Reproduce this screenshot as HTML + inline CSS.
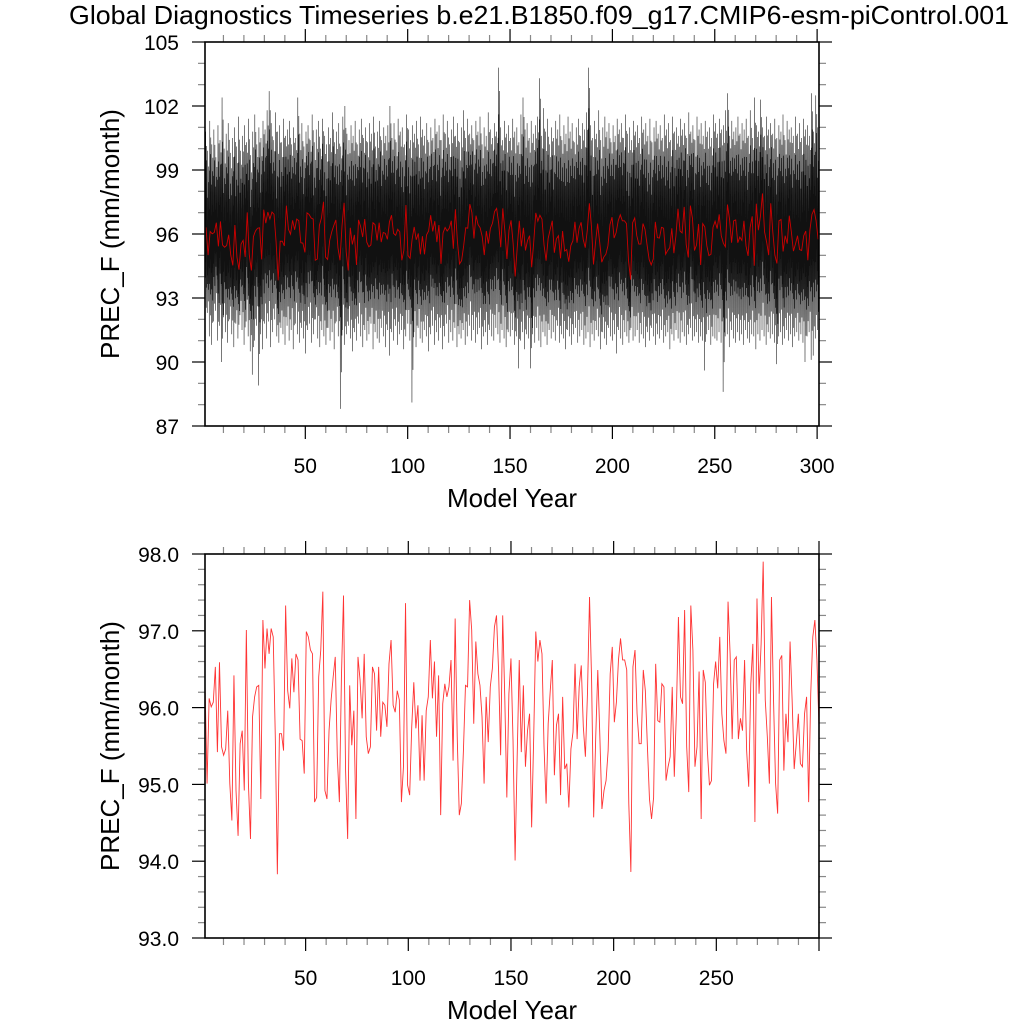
<!DOCTYPE html>
<html><head><meta charset="utf-8"><style>
html,body{margin:0;padding:0;background:#fff}
svg{display:block}
text{font-family:"Liberation Sans",sans-serif;fill:#000}
</style></head><body>
<svg id="chart" width="1024" height="1024" viewBox="0 0 1024 1024">
<text x="539" y="24" font-size="26" text-anchor="middle" textLength="940" lengthAdjust="spacingAndGlyphs">Global Diagnostics Timeseries b.e21.B1850.f09_g17.CMIP6-esm-piControl.001</text>
<g id="top"></g>
<g id="bot"></g>
</svg>
<script>
const annual = [96.31,95.01,96.12,96.01,96.07,96.53,95.42,96.59,95.49,95.38,95.46,95.96,95.01,94.53,96.42,94.92,94.33,95.53,95.7,94.92,97.01,95.01,94.29,95.88,96.14,96.27,96.29,94.81,97.14,96.51,97.03,96.7,97.03,96.92,95.62,93.83,95.66,95.66,95.44,97.33,96.22,95.99,96.64,96.2,96.7,96.62,95.59,95.57,95.14,96.99,96.92,96.75,96.7,94.77,94.83,96.4,96.75,97.51,94.92,94.81,95.7,96.1,96.4,96.66,95.36,94.77,96.4,97.46,95.18,94.29,96.29,95.51,95.96,94.55,96.66,96.36,95.86,96.7,
95.62,95.4,95.49,96.53,96.44,95.7,96.53,95.62,96.07,96.03,95.75,96.57,96.88,96.03,95.94,96.22,96.1,94.77,95.23,97.36,94.99,94.86,95.75,96.33,95.73,96.03,95.05,95.9,95.05,95.96,96.14,96.88,96.12,96.6,95.62,96.42,94.6,96.05,96.31,96.14,96.27,96.62,95.31,97.16,95.62,94.6,94.75,95.44,96.29,96.27,97.4,97.01,95.79,96.86,96.44,96.29,95.88,95.01,96.14,95.55,96.27,96.51,97.05,97.2,96.49,95.38,97.2,96.14,94.83,96.18,96.64,95.57,94.01,95.36,96.62,95.42,96.29,
95.23,95.7,95.92,94.44,95.62,96.99,96.6,96.88,96.7,95.49,94.75,95.79,96.22,96.62,95.12,95.77,95.92,94.86,96.14,95.2,95.27,94.7,95.46,95.68,96.57,95.59,96.27,96.55,95.75,95.36,96.18,97.44,96.36,94.57,95.62,96.49,95.62,94.68,94.92,95.05,95.44,96.44,96.79,95.81,96.07,96.62,96.9,96.62,96.62,96.49,94.75,93.86,96.53,96.75,95.92,95.53,95.53,96.49,96.22,95.49,94.81,94.55,94.83,96.57,95.83,95.81,96.31,96.27,95.05,95.23,95.36,96.27,95.1,95.92,97.18,96.14,96.05,97.27,
95.49,94.9,97.33,96.75,95.23,95.49,96.47,94.55,96.49,96.33,95.44,94.99,95.05,96.31,96.6,96.25,96.92,95.92,95.57,95.4,97.38,96.7,95.59,96.62,96.66,95.59,95.86,95.7,96.62,95.44,94.97,96.31,96.83,94.51,97.42,96.18,96.83,97.9,96.1,95.62,95.01,97.44,96.1,95.01,94.62,96.62,96.68,95.18,95.92,95.55,96.86,96.1,95.2,95.53,95.92,95.27,95.23,95.92,96.14,94.77,96.18,96.92,97.14,96.62,95.75];
const yearHi = [100.8,99.9,101.3,100.2,100.9,99.6,101.1,100.4,102.4,100.0,100.7,101.2,99.8,100.5,101.0,100.1,101.5,99.9,100.6,101.1,100.3,101.4,99.7,100.8,101.6,100.2,101.0,100.5,101.3,100.9,101.8,102.7,101.2,100.4,101.7,100.8,101.1,100.3,101.4,100.6,100.9,101.3,100.2,101.0,100.5,102.4,100.7,101.2,100.1,100.8,101.1,100.4,101.6,100.3,100.9,101.3,100.0,101.4,100.6,100.2,101.0,100.5,101.7,100.3,100.8,101.2,100.1,101.5,102.0,100.7,100.4,101.1,100.6,101.3,100.2,100.9,101.4,100.5,101.0,100.3,101.2,100.7,101.5,100.1,100.8,101.3,100.4,101.0,100.6,101.1,102.0,100.5,101.2,100.3,101.4,100.8,101.0,100.2,101.6,100.9,100.4,101.1,100.7,101.3,100.2,101.5,100.9,100.6,101.2,100.3,101.0,100.5,101.4,100.8,101.1,100.4,101.6,100.7,101.3,100.2,100.9,101.5,100.6,101.2,100.3,101.0,101.8,100.5,101.4,100.7,101.1,100.4,101.3,100.8,101.5,100.2,101.0,100.6,101.7,100.9,100.5,101.2,100.8,103.8,101.0,100.4,101.3,100.7,101.1,100.5,101.4,100.8,101.0,100.3,101.6,102.4,100.9,101.2,100.5,101.3,100.7,101.1,101.5,103.3,100.6,101.9,100.8,101.4,100.2,101.0,100.5,101.3,100.9,101.6,100.4,101.1,100.7,101.5,100.8,101.2,100.3,101.0,101.4,100.6,101.2,100.9,101.7,103.8,101.1,100.5,101.3,100.7,101.8,100.4,101.0,101.5,100.8,101.2,100.3,101.1,100.6,101.4,100.9,101.2,100.5,101.6,100.7,101.0,100.4,101.3,100.8,101.1,100.5,101.5,100.9,101.2,100.6,101.4,100.3,101.0,101.3,100.7,101.1,100.5,101.6,100.9,101.2,100.4,101.5,100.8,101.0,100.6,101.4,100.9,101.2,100.5,101.7,100.8,101.1,100.4,101.5,100.9,101.2,100.6,101.3,100.8,101.0,100.5,101.6,101.2,100.7,101.4,100.9,101.1,101.8,102.6,100.6,101.3,100.8,101.0,101.5,100.7,101.2,100.9,101.4,100.6,101.8,100.5,102.4,101.1,100.8,102.3,101.0,100.6,101.5,100.9,101.2,100.7,101.4,100.5,101.1,100.8,101.6,100.4,101.3,100.9,101.0,100.6,101.5,100.7,101.2,100.5,101.4,100.9,101.1,100.6,102.6,100.8,102.5,101.0];
const yearLo = [91.6,92.3,91.2,90.8,91.9,92.4,91.0,91.7,90.0,92.1,91.4,90.9,92.0,91.3,90.7,91.8,91.1,92.2,91.5,90.8,91.9,91.2,90.5,89.4,91.0,91.7,88.9,91.3,90.6,91.8,91.1,91.9,90.7,91.4,92.0,91.2,90.9,91.6,91.3,90.8,91.7,91.0,91.5,90.6,91.8,91.3,90.9,91.6,91.1,90.4,91.5,91.8,90.9,91.3,92.0,91.1,90.7,91.5,91.2,90.8,91.6,91.0,91.4,90.6,91.9,91.2,87.8,91.5,90.8,91.3,91.7,91.1,90.5,91.4,91.0,91.8,91.2,90.7,91.5,91.0,91.3,91.8,90.6,91.4,91.1,90.9,91.6,91.2,90.7,91.5,90.3,91.4,91.0,91.7,90.8,91.3,91.5,90.6,91.2,91.8,91.0,88.1,91.4,90.7,91.6,91.1,90.9,91.5,91.2,90.5,91.3,91.7,90.8,91.4,91.0,91.6,90.6,91.2,91.8,90.9,91.4,91.0,91.6,90.7,91.3,91.1,91.5,90.8,91.2,91.7,91.0,91.5,90.9,91.3,91.6,90.6,91.2,91.4,90.8,91.5,91.2,91.0,91.6,91.3,90.9,91.5,91.1,90.7,91.4,91.2,91.5,90.8,91.2,89.7,91.0,91.4,90.6,91.3,91.1,89.7,91.3,90.9,91.6,91.0,90.7,91.4,91.2,90.8,91.5,91.1,91.4,91.0,91.7,90.9,91.3,91.1,90.6,91.5,91.2,90.8,91.3,91.6,90.9,91.2,91.5,90.8,91.1,91.4,90.7,91.3,91.0,91.5,91.2,90.6,91.4,91.1,90.8,91.6,91.2,91.0,91.3,90.4,91.5,91.1,90.8,91.4,91.2,90.9,91.6,91.0,91.2,91.5,90.9,91.3,91.1,90.7,91.4,91.0,91.6,91.2,90.8,91.3,91.1,91.5,90.9,91.2,91.4,90.6,91.3,91.0,91.5,91.1,90.9,91.4,91.2,90.8,91.3,91.6,91.0,91.2,91.4,90.9,91.2,91.0,89.6,91.3,91.5,90.8,91.2,91.1,91.0,91.4,90.9,88.6,91.2,91.3,90.7,91.5,91.1,90.9,91.4,91.0,91.3,90.8,91.5,91.1,90.9,91.3,91.2,90.6,91.3,91.0,91.5,91.2,90.8,91.4,91.1,91.3,90.9,89.9,91.2,91.4,90.8,91.1,91.5,91.0,91.3,90.7,91.2,91.4,91.0,91.3,90.9,90.0,91.2,91.4,90.1,90.3,91.1,91.5];
const topYTicks = [87,90,93,96,99,102,105];
const botYTicks = ["93.0","94.0","95.0","96.0","97.0","98.0"];
const topXTicks = [50,100,150,200,250,300];
const botXTicks = [50,100,150,200,250];

const NS = "http://www.w3.org/2000/svg";
function mk(tag, attrs, parent){const e=document.createElementNS(NS,tag);for(const k in attrs)e.setAttribute(k,attrs[k]);parent.appendChild(e);return e;}
const L=205,R=819;
function panel(g, T, B, xMin, xMax, yMin, yMax, yTicks, yMinorStep, xTicks){
  const sx=v=>L+(v-xMin)/(xMax-xMin)*(R-L);
  const sy=v=>B-(v-yMin)/(yMax-yMin)*(B-T);
  for(let v=10; v<=xMax; v+=10){
    if(v<xMin) continue;
    const x=sx(v), major=v%50===0;
    const len=major?13:7, col=major?"#000":"#888";
    const t1=mk("line",{x1:x,x2:x,y1:B,y2:B+len,stroke:col,"stroke-width":1.2},g);
    
    
    const t2=mk("line",{x1:x,x2:x,y1:T,y2:T-len,stroke:col,"stroke-width":1.2},g);
    
    
  }
  const nMin=Math.round((yMax-yMin)/yMinorStep);
  const majStep=(yTicks[1]-yTicks[0]);
  for(let i=0;i<=nMin;i++){
    const v=yMin+i*yMinorStep, y=sy(v);
    const major=Math.abs(((v-yMin)/majStep)-Math.round((v-yMin)/majStep))<1e-6;
    const len=major?13:7, col=major?"#000":"#888";
    const a=mk("line",{x1:L-len,x2:L,y1:y,y2:y,stroke:col,"stroke-width":1.2},g);
    
    
    const b=mk("line",{x1:R,x2:R+len,y1:y,y2:y,stroke:col,"stroke-width":1.2},g);
    
    
  }
  yTicks.forEach(v=>{
    const t=mk("text",{x:L-26,y:sy(+v)+8,"font-size":21,"text-anchor":"end"},g);
    t.textContent=v;
    
    
  });
  xTicks.forEach(v=>{
    const t=mk("text",{x:sx(v),y:B+47,"font-size":21,"text-anchor":"middle"},g);
    t.textContent=v;
    
    
  });
  const xt=mk("text",{x:(L+R)/2,y:B+81,"font-size":26,"text-anchor":"middle"},g);
  xt.textContent="Model Year";
  
  
  const yt=mk("text",{x:0,y:0,"font-size":26,"text-anchor":"middle",transform:`translate(119,${(T+B)/2}) rotate(-90)`},g);
  yt.textContent="PREC_F (mm/month)";
  
  
  return {sx,sy};
}
function frame(g,T,B){
  const f=mk("rect",{x:L,y:T,width:R-L,height:B-T,fill:"none",stroke:"#000","stroke-width":1.6},g);
  
  
}

// TOP PANEL
const gt=document.getElementById("top");
const tT=42,tB=426;
const ta=panel(gt,tT,tB,1,300.92,87,105,topYTicks,1,topXTicks);
const N=annual.length;
const annAt=k=>annual[Math.min(N-1,Math.round(k*(N-1)/(yearHi.length-1)))];
const shape=[0.2,-1.0,0.55,-0.35,1.0,-0.5,0.7,-0.8,0.3,-0.2,0.85,-0.6];
let sp=[];
yearHi.forEach((h,k)=>{
  const a=annAt(k), lo=yearLo[k];
  shape.forEach((s,j)=>{
    const v = s>=0 ? a + s*(h-a) : a + (-s)*(lo-a);
    sp.push([1+k+j/12, v]);
  });
});
const spike=mk("polyline",{points:sp.map(p=>ta.sx(p[0]).toFixed(2)+","+ta.sy(p[1]).toFixed(2)).join(" "),fill:"none",stroke:"#111","stroke-width":0.55},gt);


const redTop=mk("polyline",{points:annual.map((v,i)=>ta.sx(1.5+i*299/(N-1)).toFixed(2)+","+ta.sy(v).toFixed(2)).join(" "),fill:"none",stroke:"#c00","stroke-width":0.9},gt);


frame(gt,tT,tB);

// BOTTOM PANEL
const gb=document.getElementById("bot");
const bT=554,bB=938;
const ba=panel(gb,bT,bB,1,300,93,98,botYTicks,0.2,botXTicks);
const redBot=mk("polyline",{points:annual.map((v,i)=>ba.sx(1+i*299/(N-1)).toFixed(2)+","+ba.sy(v).toFixed(2)).join(" "),fill:"none",stroke:"#f33","stroke-width":0.9},gb);


frame(gb,bT,bB);
</script>
</body></html>
